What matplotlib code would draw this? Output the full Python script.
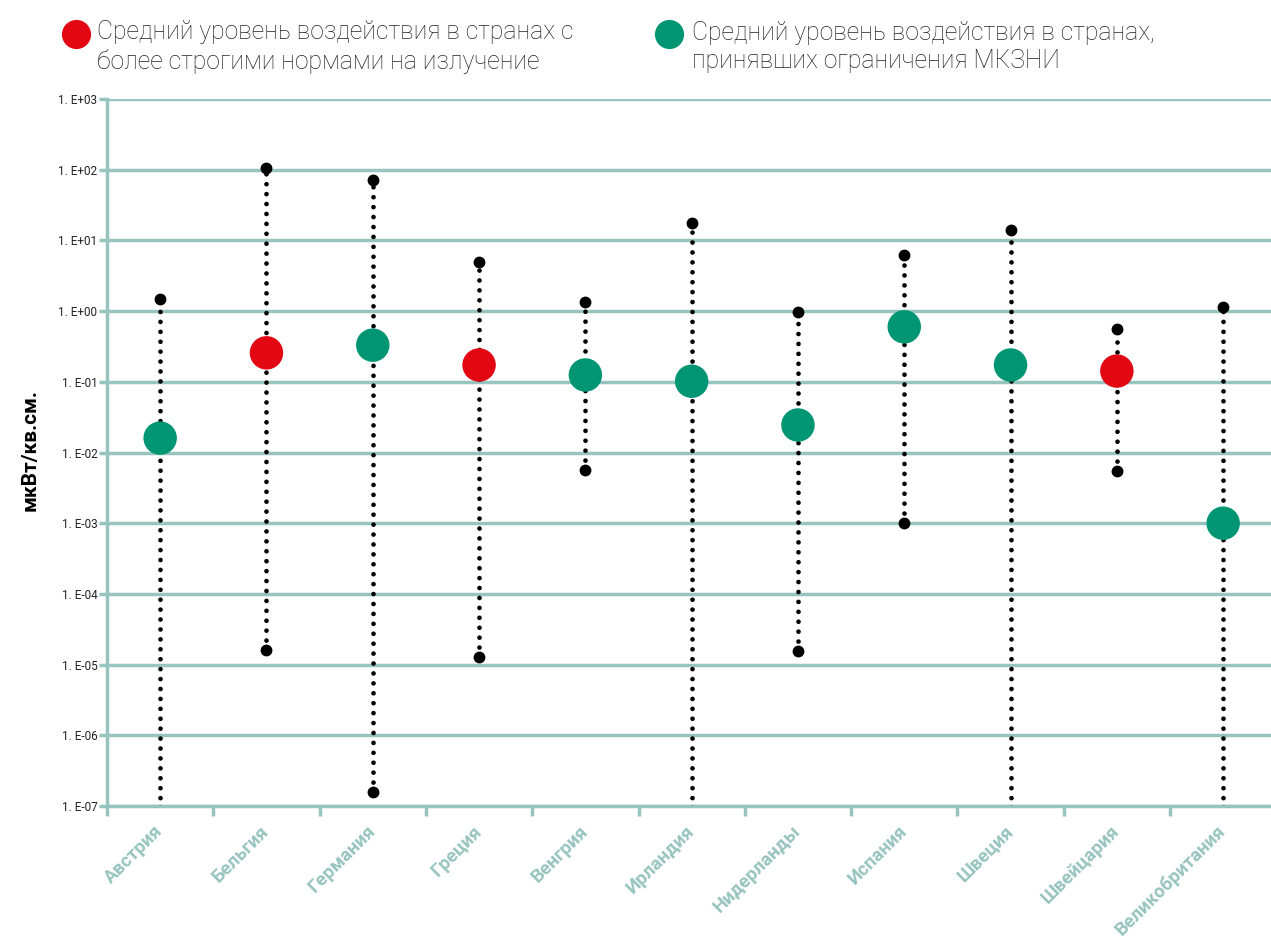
import matplotlib.pyplot as plt
import numpy as np
from matplotlib.ticker import FixedLocator, FuncFormatter

plt.rcParams['font.family'] = ['Roboto', 'DejaVu Sans']

countries = ['Австрия', 'Бельгия', 'Германия', 'Греция', 'Венгрия', 'Ирландия',
             'Нидерланды', 'Испания', 'Швеция', 'Швейцария', 'Великобритания']
max_vals = [1.48, 106, 71, 4.95, 1.35, 17.6, 0.97, 6.2, 14, 0.56, 1.15]
min_vals = [1e-8, 1.6e-5, 1.6e-7, 1.3e-5, 0.0056, 1e-8, 1.55e-5, 0.001, 1e-8, 0.0055, 1e-8]
mean_vals = [0.016, 0.257, 0.33, 0.173, 0.125, 0.102, 0.0245, 0.6, 0.173, 0.142, 0.001]
strict = [False, True, False, True, False, False, False, False, False, True, False]

RED = '#E30613'
GREEN = '#009673'
GRID = '#97C4BF'
LABEL = '#97C4BF'

fig = plt.figure(figsize=(12.71, 9.46), dpi=100)
ax = fig.add_axes([0.0842, 0.148, 0.9158, 0.7473])

x = np.arange(len(countries))

# dotted range lines with end points
for i in x:
    ax.plot([i, i], [min_vals[i], max_vals[i]], color='black', lw=3.4,
            linestyle=(0, (0.001, 2.1)), dash_capstyle='round', zorder=3)
    ax.plot([i, i], [min_vals[i], max_vals[i]], 'o', color='black', ms=7.5,
            zorder=4)

# mean markers
colors = [RED if s else GREEN for s in strict]
ax.scatter(x, mean_vals, s=580, c=colors, zorder=5, linewidths=0)

ax.set_yscale('log')
ax.set_ylim(1e-7, 1e3)
ax.set_xlim(-0.5, 10.45)

yticks = [10.0 ** k for k in range(-7, 4)]
ax.yaxis.set_major_locator(FixedLocator(yticks))
ax.yaxis.set_minor_locator(FixedLocator([]))
ax.yaxis.set_major_formatter(FuncFormatter(
    lambda v, p: '1. E%+03d' % int(round(np.log10(v)))))
ax.grid(axis='y', color=GRID, lw=2.5, zorder=0)
ax.set_axisbelow(True)

ax.set_xticks(np.arange(-0.5, 10.5, 1.0))
ax.set_xticklabels([])
ax.set_xticks(x, minor=True)
ax.set_xticklabels(countries, minor=True, rotation=45, ha='right', va='center',
                   rotation_mode='anchor', color=LABEL, fontsize=13.5,
                   fontweight='bold')
ax.tick_params(axis='x', which='minor', length=0, pad=16)
ax.tick_params(axis='x', which='major', length=7, width=2.5, color=GRID)
ax.tick_params(axis='y', length=6, width=2.5, color=GRID, labelsize=8.5,
               labelcolor='#222222', pad=1)

for side in ['top', 'right']:
    ax.spines[side].set_visible(False)
for side in ['left', 'bottom']:
    ax.spines[side].set_color(GRID)
    ax.spines[side].set_linewidth(2.5)

fig.text(30 / 1271, 1 - 450 / 946, 'мкВт/кв.см.', fontsize=15,
         fontweight='bold', rotation=90, ha='center', va='center')

# legend
fig.add_artist(plt.Line2D([76 / 1271], [1 - 34 / 946], marker='o', ms=21,
                          color=RED, mec='none', transform=fig.transFigure))
fig.add_artist(plt.Line2D([669 / 1271], [1 - 34 / 946], marker='o', ms=21,
                          color=GREEN, mec='none', transform=fig.transFigure))
fig.text(97 / 1271, 1 - 47 / 946,
         'Средний уровень воздействия в странах с\nболее строгими нормами на излучение',
         fontsize=17.8, fontweight='light', color='#222222', va='center',
         linespacing=1.25)
fig.text(692 / 1271, 1 - 47 / 946,
         'Средний уровень воздействия в странах,\nпринявших ограничения МКЗНИ',
         fontsize=17.8, fontweight='light', color='#222222', va='center',
         linespacing=1.25)

fig.savefig('out.png', dpi=100)
